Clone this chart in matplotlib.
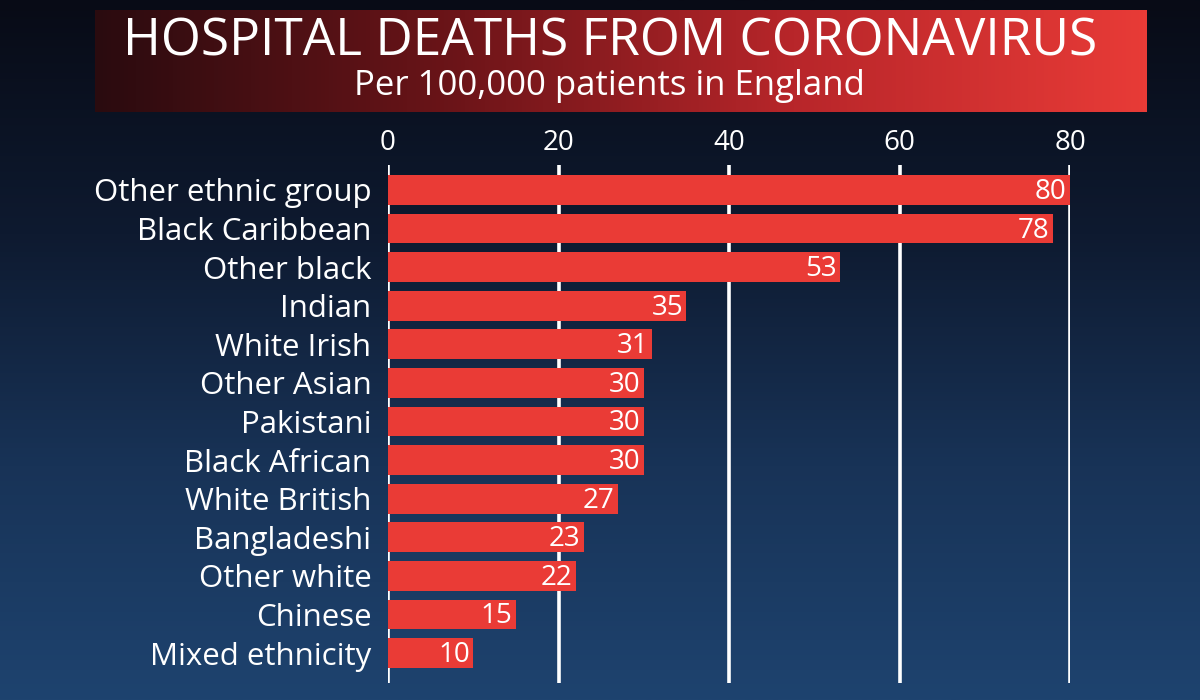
import numpy as np
import matplotlib
matplotlib.use("Agg")
import matplotlib.pyplot as plt
from matplotlib.colors import LinearSegmentedColormap

plt.rcParams["font.family"] = ["Open Sans", "DejaVu Sans"]

# data
groups = [
    "Other ethnic group", "Black Caribbean", "Other black", "Indian",
    "White Irish", "Other Asian", "Pakistani", "Black African",
    "White British", "Bangladeshi", "Other white", "Chinese",
    "Mixed ethnicity",
]
deaths = [80, 78, 53, 35, 31, 30, 30, 30, 27, 23, 22, 15, 10]
ticks = [0, 20, 40, 60, 80]

title = "HOSPITAL DEATHS FROM CORONAVIRUS"
subtitle = "Per 100,000 patients in England"

W, H = 1200, 700
BAR_RED = "#ea3b36"

fig = plt.figure(figsize=(W / 100, H / 100), dpi=100)

# background layer in pixel coordinates
bg = fig.add_axes([0, 0, 1, 1])
bg.set_xlim(0, W)
bg.set_ylim(H, 0)
bg.axis("off")

sky = LinearSegmentedColormap.from_list("sky", ["#080b16", "#0e1a30", "#183357", "#1e436f"])
grad = np.linspace(0, 1, 256).reshape(-1, 1)
bg.imshow(grad, cmap=sky, aspect="auto", extent=(0, W, H, 0), zorder=0)

banner = LinearSegmentedColormap.from_list("banner", ["#2a0b0f", "#6a1418", "#b8262a", "#e83b37"])
bgrad = np.linspace(0, 1, 256).reshape(1, -1)
bg.imshow(bgrad, cmap=banner, aspect="auto", extent=(95, 1147, 112, 10), zorder=1)
bg.text(610, 56, title, color="white", fontsize=37, ha="center", va="baseline", zorder=2)
bg.text(609, 95, subtitle, color="white", fontsize=25, ha="center", va="baseline", zorder=2)

# bar chart, placed to line up with the reference
x0_px, x80_px = 388, 1070
top_px, bot_px = 165, 683
ax = fig.add_axes([x0_px / W, (H - bot_px) / H, (x80_px - x0_px) / W, (bot_px - top_px) / H])
ax.patch.set_alpha(0)

pos = np.arange(len(groups))
step = 38.6
ax.set_ylim(pos[-1] + (bot_px - 653) / step, (top_px - 190) / step)
ax.set_xlim(0, 80)

for t in ticks:
    ax.axvline(t, color="white", lw=2.6, zorder=1)

ax.barh(pos, deaths, height=0.77, color=BAR_RED, zorder=2)
for p, v in zip(pos, deaths):
    ax.text(v - 0.4, p + 0.05, str(v), color="white", fontsize=20,
            ha="right", va="center", zorder=3)

ax.xaxis.tick_top()
ax.set_xticks(ticks)
ax.set_xticklabels([str(t) for t in ticks], color="white", fontsize=20)
ax.tick_params(axis="x", length=0, pad=6)
ax.set_yticks(pos)
ax.set_yticklabels(groups, color="white", fontsize=22.5)
ax.tick_params(axis="y", length=0, pad=12)
for s in ax.spines.values():
    s.set_visible(False)

fig.savefig("out.png", dpi=100)
